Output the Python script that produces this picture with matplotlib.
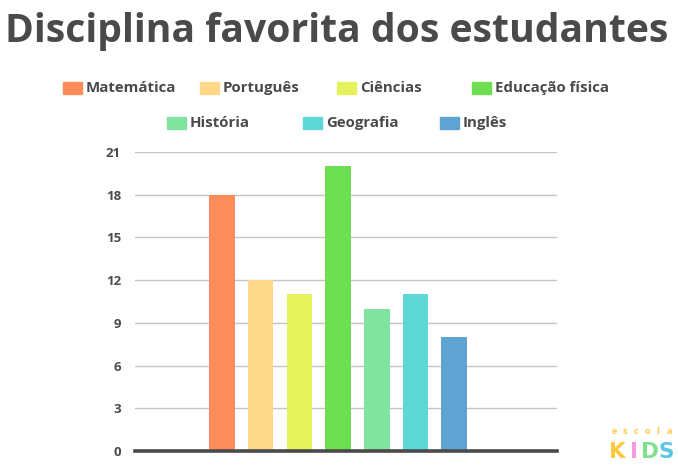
import matplotlib
matplotlib.use("Agg")
import matplotlib.pyplot as plt
from matplotlib.patches import Rectangle

# ------------------------------------------------------------------
# data
# ------------------------------------------------------------------
subjects = ["Matemática", "Português", "Ciências", "Educação física",
            "História", "Geografia", "Inglês"]
students = [18, 12, 11, 20, 10, 11, 8]
colors = ["#FF8C5A", "#FFD88A", "#E5F25C", "#6EDF52",
          "#80E3A0", "#5DD8D6", "#5FA3D2"]
y_ticks = [0, 3, 6, 9, 12, 15, 18, 21]

TEXT = "#4a4a4a"
FONT = "Open Sans"

# legend layout (pixel x of patch, pixel y of row)
legend_x = [63, 200, 337, 472, 167, 303, 440]
legend_y = [88, 88, 88, 88, 123, 123, 123]

W, H = 678, 468
fig = plt.figure(figsize=(W / 100, H / 100), dpi=100)
fig.patch.set_facecolor("white")

# ------------------------------------------------------------------
# axes
# ------------------------------------------------------------------
ax = fig.add_axes([135 / W, 1 - 451 / H, (557 - 135) / W, (451 - 152) / H])
xs = list(range(len(subjects)))
ax.bar(xs, students, width=0.66, color=colors, zorder=3)

ax.set_ylim(0, 21)
ax.set_xlim(-2.25, 8.66)
ax.set_yticks(y_ticks)
ax.set_yticklabels([str(t) for t in y_ticks], fontsize=9.5, fontweight="bold",
                   color=TEXT, family=FONT)
ax.set_xticks([])
ax.tick_params(axis="y", length=0, pad=10)
ax.grid(axis="y", color="#c4c4c4", linewidth=1, zorder=0)
for s in ["top", "right", "left"]:
    ax.spines[s].set_visible(False)
ax.spines["bottom"].set_color("#4a4a4a")
ax.spines["bottom"].set_linewidth(2.6)
ax.spines["bottom"].set_zorder(4)

# ------------------------------------------------------------------
# title, fitted to the reference width
# ------------------------------------------------------------------
title = fig.text(5 / W, 1 - 42 / H, "Disciplina favorita dos estudantes",
                 fontsize=30, fontweight="bold", color=TEXT, family=FONT,
                 ha="left", va="baseline")
fig.canvas.draw()
bb = title.get_window_extent()
title.set_fontsize(30 * 663 / bb.width)

# ------------------------------------------------------------------
# legend, drawn by hand to keep the odd spacing
# ------------------------------------------------------------------
for name, col, lx, ly in zip(subjects, colors, legend_x, legend_y):
    fig.patches.append(Rectangle((lx / W, 1 - (ly + 6) / H), 19 / W, 12 / H,
                                 transform=fig.transFigure, color=col))
    fig.text((lx + 23) / W, 1 - ly / H, name, fontsize=10.8, fontweight="bold",
             color=TEXT, family=FONT, ha="left", va="center")

# ------------------------------------------------------------------
# "escola KIDS" logo
# ------------------------------------------------------------------
for i, ch in enumerate("escola"):
    fig.text((614 + i * 11) / W, 1 - 432 / H, ch, fontsize=6.5,
             fontweight="bold", color="#FFC83D", family=FONT, ha="center",
             va="center")
kids_cols = ["#FFC83D", "#F79ADF", "#7DE08A", "#5CC6E0"]
for i, (ch, col) in enumerate(zip("KIDS", kids_cols)):
    fig.text((617 + i * 16.5) / W, 1 - 452 / H, ch, fontsize=15.5,
             fontweight="heavy", color=col, family="DejaVu Sans", ha="center",
             va="center")

fig.savefig("out.png", dpi=100)
